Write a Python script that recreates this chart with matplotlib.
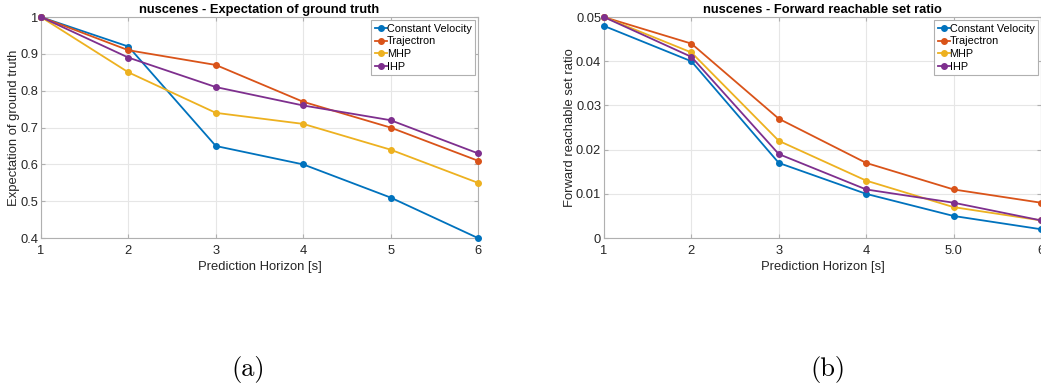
import matplotlib
matplotlib.use("Agg")
import matplotlib.pyplot as plt

horizon = [1, 2, 3, 4, 5, 6]
methods = ["Constant Velocity", "Trajectron", "MHP", "IHP"]
colors = ["#0072BD", "#D95319", "#EDB120", "#7E2F8E"]

# expectation of ground truth
exp_cv = [1.0, 0.92, 0.65, 0.60, 0.51, 0.40]
exp_traj = [1.0, 0.91, 0.87, 0.77, 0.70, 0.61]
exp_mhp = [1.0, 0.85, 0.74, 0.71, 0.64, 0.55]
exp_ihp = [1.0, 0.89, 0.81, 0.76, 0.72, 0.63]

# forward reachable set ratio
frs_cv = [0.048, 0.040, 0.017, 0.010, 0.005, 0.002]
frs_traj = [0.050, 0.044, 0.027, 0.017, 0.011, 0.008]
frs_mhp = [0.050, 0.042, 0.022, 0.013, 0.007, 0.004]
frs_ihp = [0.050, 0.041, 0.019, 0.011, 0.008, 0.004]

left_ticks = [0.4, 0.5, 0.6, 0.7, 0.8, 0.9, 1.0]
left_ticklabels = ["0.4", "0.5", "0.6", "0.7", "0.8", "0.9", "1"]
right_ticks = [0, 0.01, 0.02, 0.03, 0.04, 0.05]
right_ticklabels = ["0", "0.01", "0.02", "0.03", "0.04", "0.05"]
right_xticklabels = ["1", "2", "3", "4", "5.0", "6"]

plt.rcParams["font.family"] = ["Liberation Sans", "DejaVu Sans"]
txt = "#262626"

fig = plt.figure(figsize=(10.41, 3.84), dpi=100)
ax1 = fig.add_axes([0.0394, 0.380, 0.4198, 0.5755])
ax2 = fig.add_axes([0.5802, 0.380, 0.4198, 0.5755])


def style(ax, title, ylabel, ylim, yticks, yticklabels, xticklabels):
    ax.set_xlim(1, 6)
    ax.set_ylim(*ylim)
    ax.set_xticks(horizon)
    ax.set_xticklabels(xticklabels)
    ax.set_yticks(yticks)
    ax.set_yticklabels(yticklabels)
    ax.grid(True, color="#e6e6e6", linewidth=0.8)
    ax.set_axisbelow(True)
    for s in ax.spines.values():
        s.set_color("#b0b0b0")
        s.set_linewidth(0.8)
    ax.tick_params(direction="in", length=3, color="#b0b0b0",
                   labelsize=9.3, labelcolor=txt, top=True, right=True)
    ax.tick_params(axis="x", pad=5)
    ax.tick_params(axis="y", pad=2)
    ax.set_title(title, fontsize=9.3, fontweight="bold", color="black", pad=3)
    ax.set_xlabel("Prediction Horizon [s]", fontsize=9.4, color=txt, labelpad=3)
    ax.set_ylabel(ylabel, fontsize=9.4, color=txt, labelpad=0)
    leg = ax.legend(loc="upper right", fontsize=7.8, handlelength=1.1,
                    handletextpad=0.0, borderpad=0.3, labelspacing=0.25,
                    fancybox=False, framealpha=1, borderaxespad=0.3)
    leg.get_frame().set_edgecolor("#b0b0b0")
    leg.get_frame().set_linewidth(0.8)


for vals, name, c in zip([exp_cv, exp_traj, exp_mhp, exp_ihp], methods, colors):
    ax1.plot(horizon, vals, "-o", color=c, label=name, linewidth=1.3,
             markersize=4, clip_on=False, zorder=3)
style(ax1, "nuscenes - Expectation of ground truth", "Expectation of ground truth",
      (0.4, 1.0), left_ticks, left_ticklabels, [str(h) for h in horizon])

for vals, name, c in zip([frs_cv, frs_traj, frs_mhp, frs_ihp], methods, colors):
    ax2.plot(horizon, vals, "-o", color=c, label=name, linewidth=1.3,
             markersize=4, clip_on=False, zorder=3)
style(ax2, "nuscenes - Forward reachable set ratio", "Forward reachable set ratio",
      (0, 0.05), right_ticks, right_ticklabels, right_xticklabels)

fig.text(0.238, 0.02, "(a)", fontsize=19, family="cmr10", ha="center")
fig.text(0.795, 0.02, "(b)", fontsize=19, family="cmr10", ha="center")

fig.savefig("out.png", dpi=100)
